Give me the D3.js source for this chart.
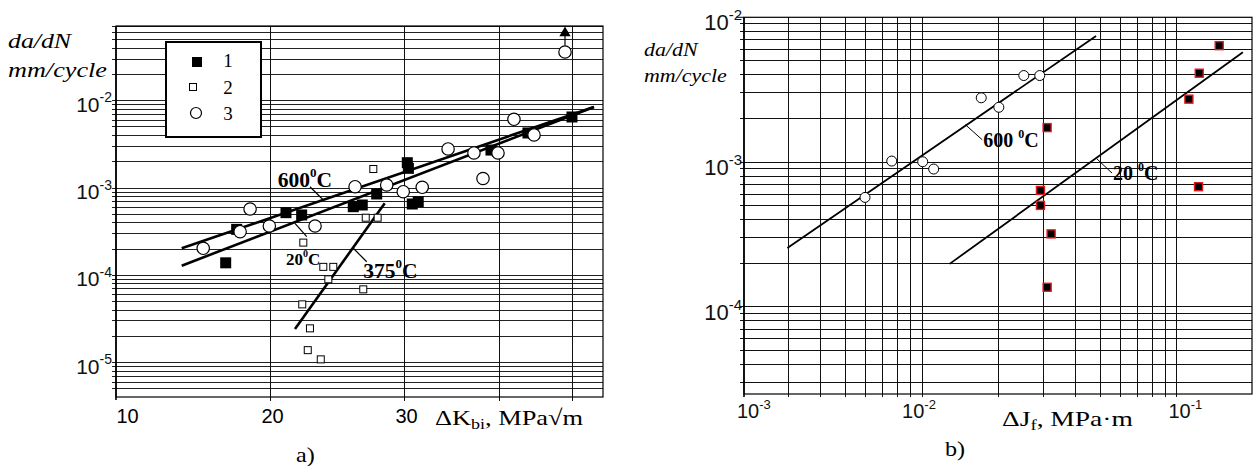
<!DOCTYPE html>
<html><head><meta charset="utf-8">
<script src="https://cdn.jsdelivr.net/npm/d3@7"></script>
<style>html,body{margin:0;padding:0;background:#fff;}svg{display:block;}</style>
</head><body>
<svg id="c" width="1253" height="466"></svg>
<script>
// ---------- Panel a) data ----------
const aXGrid = [20, 30, 40, 50];
const aXTickVals = [20, 30];
const aXFirstLabel = "10";
const aYExps = ["-2", "-3", "-4", "-5"];
const aLegendLabels = ["1", "2", "3"];
// series 1 (filled squares): [ΔK, da/dN]
const aS1 = [[17.49,1.39e-4],[18.08,3.36e-4],[20.99,5.22e-4],[22.01,4.91e-4],[25.73,6.11e-4],[26.44,6.39e-4],
  [27.62,8.54e-4],[30.3,1.95e-3],[30.4,1.68e-3],[30.76,6.56e-4],[31.32,6.97e-4],[39.03,2.72e-3],[43.65,4.27e-3],[49.87,6.51e-3]];
// series 2 (open squares)
const aS2 = [[22.12,2.37e-4],[23.50,1.25e-4],[24.22,1.25e-4],[23.86,9.0e-5],[26.52,6.91e-5],[22.05,4.65e-5],
  [22.57,2.47e-5],[22.42,1.39e-5],[23.32,1.09e-5],[27.34,1.65e-3],[26.72,4.57e-4],[27.70,4.57e-4]];
// series 3 (circles)
const aS3 = [[16.34,2.04e-4],[18.27,3.16e-4],[18.83,5.75e-4],[19.96,3.67e-4],[22.92,3.67e-4],[25.87,1.035e-3],
  [28.47,1.083e-3],[29.93,9.07e-4],[31.70,1.019e-3],[34.28,2.80e-3],[37.07,2.52e-3],[38.10,1.285e-3],
  [39.87,2.52e-3],[41.84,6.12e-3],[44.46,4.05e-3],[48.83,3.61e-2]];
const aArrow = [[48.83,4.3e-2],[48.83,5.96e-2]];
const aLine600 = [[15.31,2.04e-4],[53.3,8.47e-3]];
const aLine20  = [[15.31,1.29e-4],[53.3,8.47e-3]];
const aLine375 = [[21.57,2.43e-5],[28.3,6.68e-4]];
const aLead600 = [[22.57,1.035e-3],[23.50,7.29e-4]];
const aLead20  = [[21.57,3.94e-4],[22.35,2.77e-4]];
const aLead375 = [[25.73,2.04e-4],[26.80,1.43e-4]];
const aLab600 = [20.47,1.035e-3];
const aLab20  = [20.99,1.31e-4];
const aLab375 = [26.52,9.31e-5];

// ---------- Panel b) data ----------
const bXExps = ["-3", "-2", "-1"];
const bXExpVals = [0.002, 0.01, 0.1];
const bYExps = ["-2", "-3", "-4"];
const bCircles = [[5.97e-3,5.70e-4],[7.60e-3,1.016e-3],[1.005e-2,1.005e-3],[1.11e-2,8.95e-4],[1.706e-2,2.78e-3],
  [2.0e-2,2.39e-3],[2.506e-2,3.96e-3],[2.895e-2,3.96e-3]];
const bSquares = [[0.1465,6.37e-3],[0.1223,4.11e-3],[0.1114,2.72e-3],[3.094e-2,1.73e-3],[2.913e-2,6.37e-4],
  [2.913e-2,5.02e-4],[0.1215,6.76e-4],[3.208e-2,3.19e-4],[3.094e-2,1.365e-4]];
const bLine600 = [[2.96e-3,2.55e-4],[4.815e-2,7.43e-3]];
const bLine20  = [[1.282e-2,1.98e-4],[0.1814,5.74e-3]];
const bLead600 = [[1.481e-2,1.808e-3],[1.722e-2,1.425e-3]];
const bLead20  = [[4.858e-2,1.049e-3],[5.563e-2,8.39e-4]];
const bLab600 = [1.737e-2,1.269e-3];
const bLab20  = [5.61e-2,7.55e-4];

// ---------- drawing ----------
const svg = d3.select("#c");
const SANS = "'Liberation Sans', Arial, sans-serif";
const SERIF = "'Liberation Serif', 'Times New Roman', serif";

const xa = d3.scaleLog().domain([12.55, 54.78]).range([116, 603]);
const ya = d3.scaleLog().domain([0.0717, 4.04e-6]).range([26, 397]);
const xb = d3.scaleLog().domain([0.002, 0.197]).range([744, 1252]);
const yb = d3.scaleLog().domain([0.01, 2.5e-5]).range([17.3, 394]);

function pow10(g, x, y, exp, fs, anchor) {
  const t = g.append("text").attr("x", x).attr("y", y).attr("text-anchor", anchor)
    .style("font-family", SANS).style("font-size", fs + "px").attr("fill", "#111");
  t.append("tspan").text("10");
  t.append("tspan").attr("dy", -fs * 0.45).style("font-size", Math.round(fs * 0.66) + "px").text(exp);
  return t;
}
function stext(g, x, y, sx, fs, opts) {
  const t = g.append("text").attr("transform", `translate(${x},${y}) scale(${sx},1)`)
    .style("font-family", SERIF).style("font-size", fs + "px").attr("fill", "#000");
  if (opts && opts.italic) t.style("font-style", "italic");
  if (opts && opts.bold) t.style("font-weight", "bold");
  return t;
}
function tempLabel(g, x, y, num, fs, space) {
  const t = g.append("text").attr("x", x).attr("y", y).style("font-family", SERIF)
    .style("font-weight", "bold").style("font-size", fs + "px");
  t.append("tspan").text(num + (space ? " " : ""));
  t.append("tspan").attr("dy", -fs * 0.45).style("font-size", Math.round(fs * 0.6) + "px").text("0");
  t.append("tspan").attr("dy", fs * 0.45).text("C");
}

// ===== Panel a =====
const ga = svg.append("g");
const [ax0, ax1] = xa.range(), [ay0, ay1] = ya.range();
const aYGrid = ya.ticks().filter(v => ya(v) > ay0 + 0.5 && ya(v) < ay1 - 0.5);
ga.append("g").selectAll("line").data(aYGrid).join("line")
  .attr("x1", ax0 - 4).attr("x2", ax1).attr("y1", d => ya(d)).attr("y2", d => ya(d))
  .attr("stroke", "#222").attr("stroke-width", 1).attr("shape-rendering", "crispEdges");
ga.append("g").selectAll("line").data(aXGrid).join("line")
  .attr("x1", d => xa(d)).attr("x2", d => xa(d)).attr("y1", ay0).attr("y2", ay1 + 4)
  .attr("stroke", "#111").attr("stroke-width", 1).attr("shape-rendering", "crispEdges");
ga.append("rect").attr("x", ax0).attr("y", ay0).attr("width", ax1 - ax0).attr("height", ay1 - ay0)
  .attr("fill", "none").attr("stroke", "#000").attr("stroke-width", 1.2);
ga.append("line").attr("x1", ax0).attr("x2", ax0).attr("y1", ay0).attr("y2", ay1 + 3).attr("stroke", "#000").attr("stroke-width", 1.6);

// y tick labels
aYExps.forEach(e => pow10(ga, 112, ya(Math.pow(10, +e)) + 11, e, 21, "end"));
// x tick labels
ga.append("text").attr("x", ax0 + 11.5).attr("y", 423).attr("text-anchor", "middle")
  .style("font-family", SANS).style("font-size", "20px").text(aXFirstLabel);
aXTickVals.forEach(v => ga.append("text").attr("x", xa(v) + 2.5).attr("y", 423).attr("text-anchor", "middle")
  .style("font-family", SANS).style("font-size", "20px").text(v));

// axis titles
stext(ga, 8, 47.5, 1.2, 21.5, {italic: true}).text("da/dN");
stext(ga, 8, 77, 1.22, 21.5, {italic: true}).text("mm/cycle");
const xt = stext(ga, 435, 425, 1.2, 22);
xt.append("tspan").text("ΔK");
xt.append("tspan").attr("dy", 4).style("font-size", "15px").text("bi");
xt.append("tspan").attr("dy", -4).text(", MPa√m");
stext(ga, 296, 462, 1.15, 21).text("a)");

// lines
const la = d3.line().x(d => xa(d[0])).y(d => ya(d[1]));
[aLine600, aLine20, aLine375].forEach(L => ga.append("path").attr("d", la(L)).attr("fill", "none")
  .attr("stroke", "#000").attr("stroke-width", 2.6).attr("stroke-linecap", "butt"));
[aLead600, aLead20, aLead375].forEach(L => ga.append("path").attr("d", la(L)).attr("fill", "none")
  .attr("stroke", "#000").attr("stroke-width", 1.2));

// markers
ga.append("g").selectAll("rect").data(aS1).join("rect")
  .attr("x", d => xa(d[0]) - 5.5).attr("y", d => ya(d[1]) - 5.5).attr("width", 11).attr("height", 11).attr("fill", "#000");
ga.append("g").selectAll("rect").data(aS2).join("rect")
  .attr("x", d => xa(d[0]) - 3.5).attr("y", d => ya(d[1]) - 3.5).attr("width", 7).attr("height", 7)
  .attr("fill", "#fff").attr("stroke", "#000").attr("stroke-width", 1);
ga.append("g").selectAll("circle").data(aS3).join("circle")
  .attr("cx", d => xa(d[0])).attr("cy", d => ya(d[1])).attr("r", 6.2)
  .attr("fill", "#fff").attr("stroke", "#000").attr("stroke-width", 1.2);
// arrow off-scale
ga.append("line").attr("x1", xa(aArrow[0][0])).attr("x2", xa(aArrow[1][0]))
  .attr("y1", ya(aArrow[0][1])).attr("y2", ya(aArrow[1][1]) + 3).attr("stroke", "#000").attr("stroke-width", 1.2);
ga.append("path").attr("d", d3.symbol(d3.symbolTriangle, 55)())
  .attr("transform", `translate(${xa(aArrow[1][0])},${ya(aArrow[1][1])})`).attr("fill", "#000");

// temperature labels
tempLabel(ga, xa(aLab600[0]), ya(aLab600[1]), "600", 21.5, false);
tempLabel(ga, xa(aLab20[0]), ya(aLab20[1]), "20", 17, false);
tempLabel(ga, xa(aLab375[0]), ya(aLab375[1]), "375", 21.5, false);

// legend
const lg = ga.append("g");
lg.append("rect").attr("x", 166).attr("y", 42).attr("width", 95).attr("height", 95)
  .attr("fill", "#fff").attr("stroke", "#000").attr("stroke-width", 2);
lg.append("rect").attr("x", 192).attr("y", 57).attr("width", 10).attr("height", 10).attr("fill", "#000");
lg.append("rect").attr("x", 189.5).attr("y", 83.5).attr("width", 7).attr("height", 7).attr("fill", "#fff").attr("stroke", "#000");
lg.append("circle").attr("cx", 196).attr("cy", 113).attr("r", 5.5).attr("fill", "#fff").attr("stroke", "#000").attr("stroke-width", 1.2);
aLegendLabels.forEach((t, i) => lg.append("text").attr("x", 228).attr("y", 67 + i * 26.5).attr("text-anchor", "middle")
  .style("font-family", SERIF).style("font-size", "19px").text(t));

// ===== Panel b =====
const gb = svg.append("g");
const [bx0, bx1] = xb.range(), [by0, by1] = yb.range();
const bYGrid = yb.ticks().filter(v => yb(v) > by0 + 0.5 && yb(v) < by1 - 0.5);
const bXGrid = xb.ticks().filter(v => xb(v) > bx0 + 0.5 && xb(v) < bx1 - 0.5);
gb.append("g").selectAll("line").data(bYGrid).join("line")
  .attr("x1", bx0 - 4).attr("x2", bx1).attr("y1", d => yb(d)).attr("y2", d => yb(d))
  .attr("stroke", "#111").attr("stroke-width", 1).attr("shape-rendering", "crispEdges");
gb.append("g").selectAll("line").data(bXGrid).join("line")
  .attr("x1", d => xb(d)).attr("x2", d => xb(d)).attr("y1", by0).attr("y2", by1 + 3)
  .attr("stroke", "#111").attr("stroke-width", 1).attr("shape-rendering", "crispEdges");
gb.append("rect").attr("x", bx0).attr("y", by0).attr("width", bx1 - bx0).attr("height", by1 - by0)
  .attr("fill", "none").attr("stroke", "#000").attr("stroke-width", 1.2);
gb.append("line").attr("x1", bx0).attr("x2", bx0).attr("y1", by0).attr("y2", by1 + 3).attr("stroke", "#000").attr("stroke-width", 1.6);
gb.append("line").attr("x1", bx0 - 8).attr("x2", bx0).attr("y1", by0).attr("y2", by0).attr("stroke", "#000");

bYExps.forEach(e => pow10(gb, 742, yb(Math.pow(10, +e)) + 13, e, 22, "end"));
const bXOff = [-7, -20, -8.5];
bXExps.forEach((e, i) => pow10(gb, xb(bXExpVals[i]) + bXOff[i], 418, e, 20, "start"));

stext(gb, 644, 56, 1.22, 18, {italic: true}).text("da/dN");
stext(gb, 644, 81.5, 1.22, 18, {italic: true}).text("mm/cycle");
// clipped remnant text under the title
svg.append("defs").append("clipPath").attr("id", "cl").append("rect").attr("x", 640).attr("y", 97.5).attr("width", 40).attr("height", 4);
stext(gb, 644, 107, 1.22, 18, {italic: true}).attr("clip-path", "url(#cl)").text("mm/cycle");

const bt = stext(gb, 1002, 426, 1.25, 22);
bt.append("tspan").text("ΔJ");
bt.append("tspan").attr("dy", 4).style("font-size", "15px").text("f");
bt.append("tspan").attr("dy", -4).text(", MPa·m");
stext(gb, 945, 456, 1.15, 21).text("b)");

const lb = d3.line().x(d => xb(d[0])).y(d => yb(d[1]));
[bLine600, bLine20].forEach(L => gb.append("path").attr("d", lb(L)).attr("fill", "none")
  .attr("stroke", "#000").attr("stroke-width", 1.8));
[bLead600, bLead20].forEach(L => gb.append("path").attr("d", lb(L)).attr("fill", "none")
  .attr("stroke", "#000").attr("stroke-width", 1));

gb.append("g").selectAll("circle").data(bCircles).join("circle")
  .attr("cx", d => xb(d[0])).attr("cy", d => yb(d[1])).attr("r", 5)
  .attr("fill", "#fff").attr("stroke", "#000").attr("stroke-width", 1);
gb.append("g").selectAll("rect").data(bSquares).join("rect")
  .attr("x", d => xb(d[0]) - 4).attr("y", d => yb(d[1]) - 4).attr("width", 8).attr("height", 8)
  .attr("fill", "#000").attr("stroke", "#e31a1c").attr("stroke-width", 1.4);

tempLabel(gb, xb(bLab600[0]), yb(bLab600[1]), "600", 20, true);
tempLabel(gb, xb(bLab20[0]), yb(bLab20[1]), "20", 20, true);
</script>
</body></html>
